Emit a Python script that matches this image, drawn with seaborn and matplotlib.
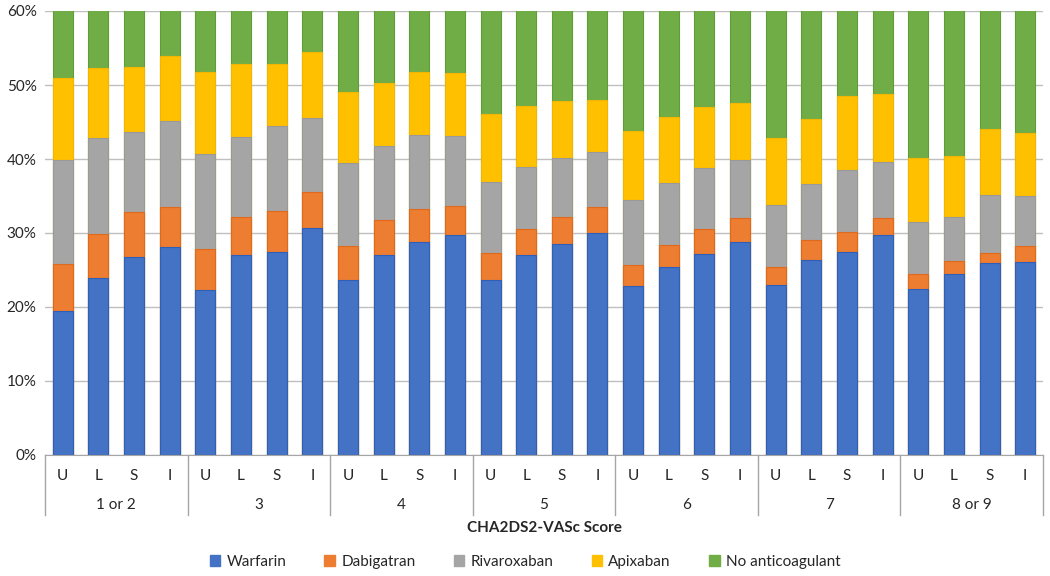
import numpy as np
import pandas as pd
import matplotlib.pyplot as plt
import matplotlib.transforms as mtransforms
from matplotlib.patches import Patch
import seaborn as sns

# CHA2DS2-VASc score groups and sub-categories
groups = ["1 or 2", "3", "4", "5", "6", "7", "8 or 9"]
subcats = ["U", "L", "S", "I"]

# segment sizes (%) per bar, in order group x subcat
warfarin = [19.4, 23.9, 26.8, 28.1,
            22.3, 27.0, 27.5, 30.7,
            23.6, 27.0, 28.8, 29.7,
            23.6, 27.0, 28.5, 30.0,
            22.9, 25.4, 27.2, 28.8,
            23.0, 26.4, 27.4, 29.7,
            22.5, 24.4, 25.9, 26.1]
dabigatran = [6.4, 6.0, 6.1, 5.4,
              5.6, 5.2, 5.5, 4.8,
              4.7, 4.8, 4.5, 4.0,
              3.7, 3.6, 3.6, 3.5,
              2.8, 3.0, 3.4, 3.2,
              2.4, 2.6, 2.7, 2.3,
              1.9, 1.8, 1.4, 2.2]
rivaroxaban = [14.0, 12.9, 10.8, 11.7,
               12.8, 10.8, 11.4, 10.1,
               11.1, 9.9, 9.9, 9.4,
               9.6, 8.3, 8.0, 7.5,
               8.8, 8.3, 8.2, 7.9,
               8.4, 7.6, 8.4, 7.6,
               7.1, 6.0, 7.9, 6.7]
apixaban = [11.1, 9.5, 8.7, 8.7,
            11.0, 9.8, 8.5, 8.9,
            9.7, 8.6, 8.6, 8.5,
            9.2, 8.3, 7.8, 7.0,
            9.3, 9.0, 8.2, 7.7,
            9.0, 8.8, 10.0, 9.2,
            8.7, 8.2, 8.8, 8.5]
no_anticoag = [49.1, 47.7, 47.6, 46.1,
               48.3, 47.2, 47.1, 45.5,
               50.9, 49.7, 48.2, 48.4,
               53.9, 52.8, 52.1, 52.0,
               56.2, 54.3, 53.0, 52.4,
               57.2, 54.6, 51.5, 51.2,
               59.8, 59.6, 56.0, 56.5]

series_names = ["Warfarin", "Dabigatran", "Rivaroxaban", "Apixaban", "No anticoagulant"]
colors = ["#4472C4", "#ED7D31", "#A5A5A5", "#FFC000", "#70AD47"]
edges = ["#2F5FB8", "#E06A1B", "#999999", "#F2B600", "#5E9E35"]

plt.rcParams['font.family'] = ['Lato', 'DejaVu Sans']

bar_ids = [f"{g}|{s}" for g in groups for s in subcats]
df = pd.DataFrame({"bar": bar_ids, "Warfarin": warfarin, "Dabigatran": dabigatran,
                   "Rivaroxaban": rivaroxaban, "Apixaban": apixaban,
                   "No anticoagulant": no_anticoag})

# cumulative tops, drawn back to front
cum = df[series_names].cumsum(axis=1)

fig = plt.figure(figsize=(10.5, 5.76), dpi=100)
ax = fig.add_axes([45 / 1050, 121 / 576, 998 / 1050, 444 / 576])

for name, col, ec in reversed(list(zip(series_names, colors, edges))):
    sns.barplot(x=df["bar"], y=cum[name] / 100, color=col, width=0.56, saturation=1,
                edgecolor=ec, linewidth=0.8, ax=ax, order=bar_ids, zorder=2)

ax.set_ylim(0, 0.6)
ax.set_xlim(-0.5, len(bar_ids) - 0.5)
ax.set_yticks(np.arange(0, 0.61, 0.1))
ax.set_yticklabels([f"{int(round(v * 100))}%" for v in np.arange(0, 0.61, 0.1)],
                   fontsize=11, color="#262626")
ax.yaxis.grid(True, color="#BFBFBF", linewidth=1)
ax.set_axisbelow(True)
for sp in ["top", "right", "left"]:
    ax.spines[sp].set_visible(False)
ax.spines["bottom"].set_color("#A6A6A6")
ax.tick_params(axis="y", length=0, pad=6)
ax.tick_params(axis="x", length=0)
ax.set_xticks([])
ax.set_xlabel("")
ax.set_ylabel("")

# multi-level category axis
trans = mtransforms.blended_transform_factory(ax.transData, ax.transAxes)
for i, b in enumerate(bar_ids):
    ax.text(i, -0.047, b.split("|")[1], transform=trans, ha="center", va="center",
            fontsize=11, color="#262626")
for gi, g in enumerate(groups):
    ax.text(gi * 4 + 1.5, -0.113, g, transform=trans, ha="center", va="center",
            fontsize=11, color="#262626")
for gi in range(len(groups) + 1):
    xb = gi * 4 - 0.5
    ax.plot([xb, xb], [0, -0.135], transform=trans, color="#A6A6A6", lw=1, clip_on=False)

fig.text(544 / 1050, 1 - 528 / 576, "CHA2DS2-VASc Score", ha="center", va="center",
         fontsize=11, fontweight="bold", color="#262626")

handles = [Patch(facecolor=c, edgecolor=c) for c in colors]
fig.legend(handles, series_names, loc="center", bbox_to_anchor=(525 / 1050, 1 - 562 / 576),
           ncol=5, frameon=False, fontsize=11, handlelength=0.7, handleheight=0.7,
           columnspacing=2.5, handletextpad=0.4, labelcolor="#262626")

fig.savefig("out.png", dpi=100)
